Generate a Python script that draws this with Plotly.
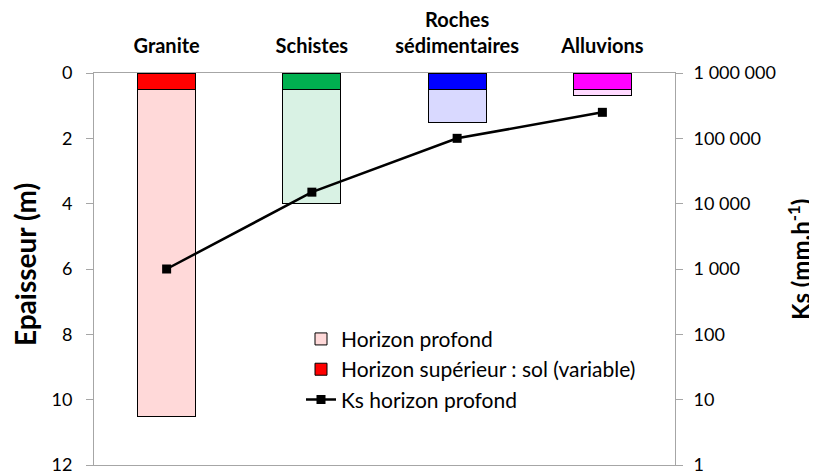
import plotly.graph_objects as go

categories = ["Granite", "Schistes", "Roches<br>sédimentaires", "Alluvions"]
sol_thickness = [0.5, 0.5, 0.5, 0.5]
profond_thickness = [10.0, 3.5, 1.0, 0.2]
ks_values = [1000, 15000, 100000, 250000]
sol_colors = ["#FF0000", "#00B050", "#0000FF", "#FF00FF"]
profond_colors = ["#FFD9D9", "#D9F2E4", "#D9D9FF", "#FFD9FF"]
left_ticks = [0, 2, 4, 6, 8, 10, 12]
right_tickvals = [1, 10, 100, 1000, 10000, 100000, 1000000]
right_ticktext = ["1", "10", "100", "1 000", "10 000", "100 000", "1 000 000"]

FONT = "Lato"
OFF = 8  # default page body margin
W, H = 817 - OFF, 474 - OFF
L, R, T, B = 94 - OFF, 142, 73 - OFF, 9
PW = W - L - R
fig = go.Figure()
fig.add_trace(go.Bar(
    x=categories, y=sol_thickness, name="Horizon supérieur : sol (variable)",
    marker=dict(color=sol_colors, line=dict(color="#000000", width=1)),
    width=0.4, legendrank=2, yaxis="y",
))
fig.add_trace(go.Bar(
    x=categories, y=profond_thickness, name="Horizon profond",
    marker=dict(color=profond_colors, line=dict(color="#000000", width=1)),
    width=0.4, legendrank=1, yaxis="y",
))
fig.add_trace(go.Scatter(
    x=categories, y=ks_values, name="Ks horizon profond", yaxis="y2",
    mode="lines+markers", line=dict(color="#000000", width=2.5),
    marker=dict(symbol="square", size=9, color="#000000"), legendrank=3,
))

fig.update_layout(
    width=W, height=H,
    margin=dict(l=L, r=R, t=T, b=B, autoexpand=False),
    paper_bgcolor="white", plot_bgcolor="white",
    barmode="stack", bargap=0.6,
    font=dict(family=FONT, size=18, color="#000000"),
    showlegend=True,
    legend=dict(x=(301 - 94) / PW, y=0.373, xanchor="left", yanchor="top", traceorder="normal",
                bgcolor="rgba(0,0,0,0)", font=dict(size=21, family=FONT),
                itemwidth=30, tracegroupgap=0),
    xaxis=dict(side="top", showline=True, mirror=True, linecolor="#A6A6A6", linewidth=1,
               ticks="outside", ticklen=11, tickcolor="rgba(0,0,0,0)",
               tickfont=dict(size=20, family=FONT, weight="bold"),
               showgrid=False, fixedrange=True, automargin=False),
    yaxis=dict(range=[12, 0], tickvals=left_ticks, showline=True, linecolor="#A6A6A6",
               linewidth=1, ticks="outside", ticklen=7, tickcolor="#A6A6A6",
               ticklabelstandoff=10, ticklabeloverflow="allow",
               showgrid=False, zeroline=False, tickfont=dict(size=18, family=FONT),
               automargin=False),
    yaxis2=dict(type="log", range=[0, 6], overlaying="y", side="right",
                tickvals=right_tickvals, ticktext=right_ticktext, showline=True,
                linecolor="#A6A6A6", linewidth=1, ticks="outside", ticklen=7,
                ticklabelstandoff=7, ticklabeloverflow="allow",
                tickcolor="#A6A6A6", showgrid=False, zeroline=False,
                tickfont=dict(size=18, family=FONT), automargin=False),
    annotations=[
        dict(text="<b>Epaisseur (m)</b>", x=(25 - 94) / PW, y=0.51, xref="paper", yref="paper",
             showarrow=False, textangle=-90, font=dict(size=28, family=FONT),
             xanchor="center", yanchor="middle"),
        dict(text="<b>Ks (mm.h<sup>-1</sup>)</b>", x=(799 - 94) / PW, y=0.523, xref="paper", yref="paper",
             showarrow=False, textangle=-90, font=dict(size=24, family=FONT),
             xanchor="center", yanchor="middle"),
    ],
)
fig.write_html("out.html")
